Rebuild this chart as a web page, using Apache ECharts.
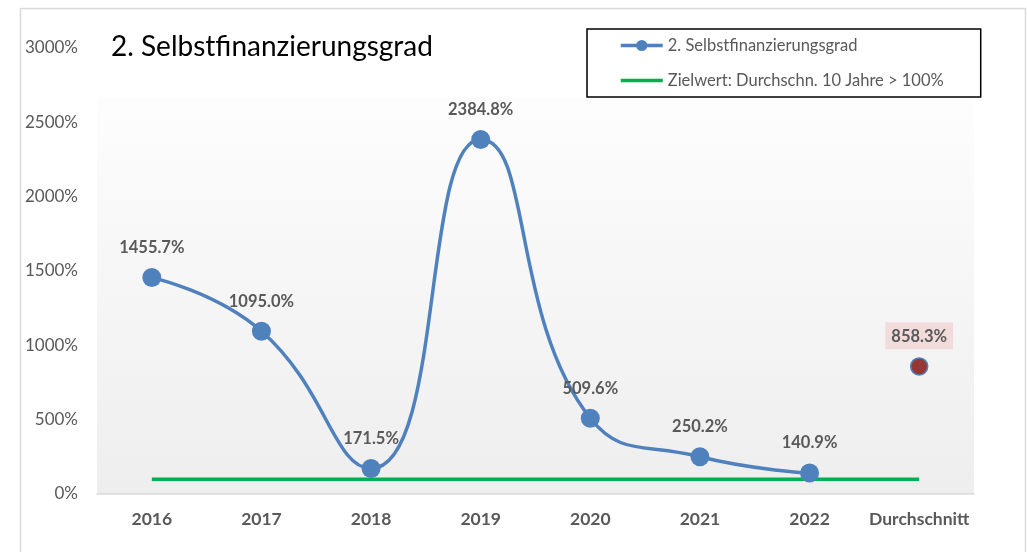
<!DOCTYPE html>
<html>
<head>
<meta charset="utf-8">
<script src="https://cdn.jsdelivr.net/npm/echarts@6/dist/echarts.min.js"></script>
<style>
  html, body { margin: 0; padding: 0; background: #fff; }
  #chart { width: 1027px; height: 552px; }
</style>
</head>
<body>
<div id="chart"></div>
<script>
// Kategorien und Werte (in %)
var categories = ['2016', '2017', '2018', '2019', '2020', '2021', '2022', 'Durchschnitt'];
var selbstfin = [1455.7, 1095.0, 171.5, 2384.8, 509.6, 250.2, 140.9, null];
var durchschnitt = [null, null, null, null, null, null, null, 858.3];
var zielwert = [100, 100, 100, 100, 100, 100, 100, 100];
var yTicks = [0, 500, 1000, 1500, 2000, 2500, 3000];

var FONT = 'Lato, "Liberation Sans", sans-serif';
var grey = '#595959';

var chart = echarts.init(document.getElementById('chart'), null, { renderer: 'canvas' });

var labelStyle = {
  show: true,
  position: 'top',
  distance: 12,
  color: grey,
  fontFamily: FONT,
  fontWeight: 'bold',
  fontSize: 16.5,
  formatter: function (p) { return p.value == null ? '' : p.value.toFixed(1) + '%'; }
};

var option = {
  backgroundColor: '#fff',
  animation: false,
  textStyle: { fontFamily: FONT },
  title: {
    text: '2. Selbstfinanzierungsgrad',
    left: 106,
    top: 28,
    textStyle: { fontFamily: FONT, fontSize: 28, fontWeight: 'normal', color: '#000' }
  },
  legend: {
    left: 587,
    top: 29,
    orient: 'vertical',
    padding: [8, 37, 8, 32],
    itemGap: 18,
    itemWidth: 42,
    itemHeight: 14,
    borderColor: '#000',
    borderWidth: 1.5,
    textStyle: { color: grey, fontSize: 16.5, fontFamily: FONT },
    data: [
      { name: '2. Selbstfinanzierungsgrad', lineStyle: { width: 3.5 } },
      { name: 'Zielwert: Durchschn. 10 Jahre > 100%', icon: 'path://M0,0L42,0L42,3.5L0,3.5Z' }
    ]
  },
  graphic: [{
    type: 'rect',
    left: 18,
    top: 6,
    shape: { width: 1005, height: 560 },
    style: { fill: 'none', stroke: '#d9d9d9', lineWidth: 1.5 },
    silent: true
  }],
  grid: {
    left: 97,
    right: 53,
    top: 48,
    bottom: 58,
    show: true,
    borderWidth: 0,
    backgroundColor: {
      type: 'linear', x: 0, y: 0, x2: 0, y2: 1,
      colorStops: [
        { offset: 0, color: 'rgba(255,255,255,0)' },
        { offset: 0.11, color: 'rgba(255,255,255,0)' },
        { offset: 0.1101, color: '#fdfdfd' },
        { offset: 1, color: '#eeeeee' }
      ]
    }
  },
  xAxis: {
    type: 'category',
    data: categories,
    boundaryGap: true,
    axisLine: { lineStyle: { color: '#d9d9d9', width: 1.5 } },
    axisTick: { show: false },
    axisLabel: { color: grey, fontSize: 17.5, fontWeight: 'bold', fontFamily: FONT, margin: 16, interval: 0 }
  },
  yAxis: {
    type: 'value',
    min: yTicks[0],
    max: yTicks[yTicks.length - 1],
    interval: 500,
    axisLine: { show: false },
    axisTick: { show: false },
    splitLine: { show: false },
    axisLabel: {
      color: grey, fontSize: 17, fontFamily: FONT, margin: 19,
      formatter: function (v) { return v + '%'; }
    }
  },
  series: [
    {
      name: 'Zielwert: Durchschn. 10 Jahre > 100%',
      type: 'line',
      data: zielwert,
      symbol: 'none',
      lineStyle: { color: '#00b050', width: 3.5 },
      itemStyle: { color: '#00b050' },
      z: 3
    },
    {
      name: '2. Selbstfinanzierungsgrad',
      type: 'line',
      data: selbstfin,
      smooth: 0.5,
      symbol: 'circle',
      symbolSize: 19,
      lineStyle: { color: '#4f81bd', width: 3.5 },
      itemStyle: { color: '#4f81bd' },
      label: labelStyle,
      z: 4
    },
    {
      name: 'Durchschnitt',
      type: 'line',
      data: durchschnitt,
      symbol: 'circle',
      symbolSize: 17,
      lineStyle: { width: 0 },
      itemStyle: { color: '#953735', borderColor: '#4f81bd', borderWidth: 1.5 },
      label: Object.assign({}, labelStyle, {
        backgroundColor: '#f2dcdb',
        padding: [6, 6, 4, 6],
        distance: 8
      }),
      z: 5
    }
  ]
};

chart.setOption(option);
</script>
</body>
</html>
